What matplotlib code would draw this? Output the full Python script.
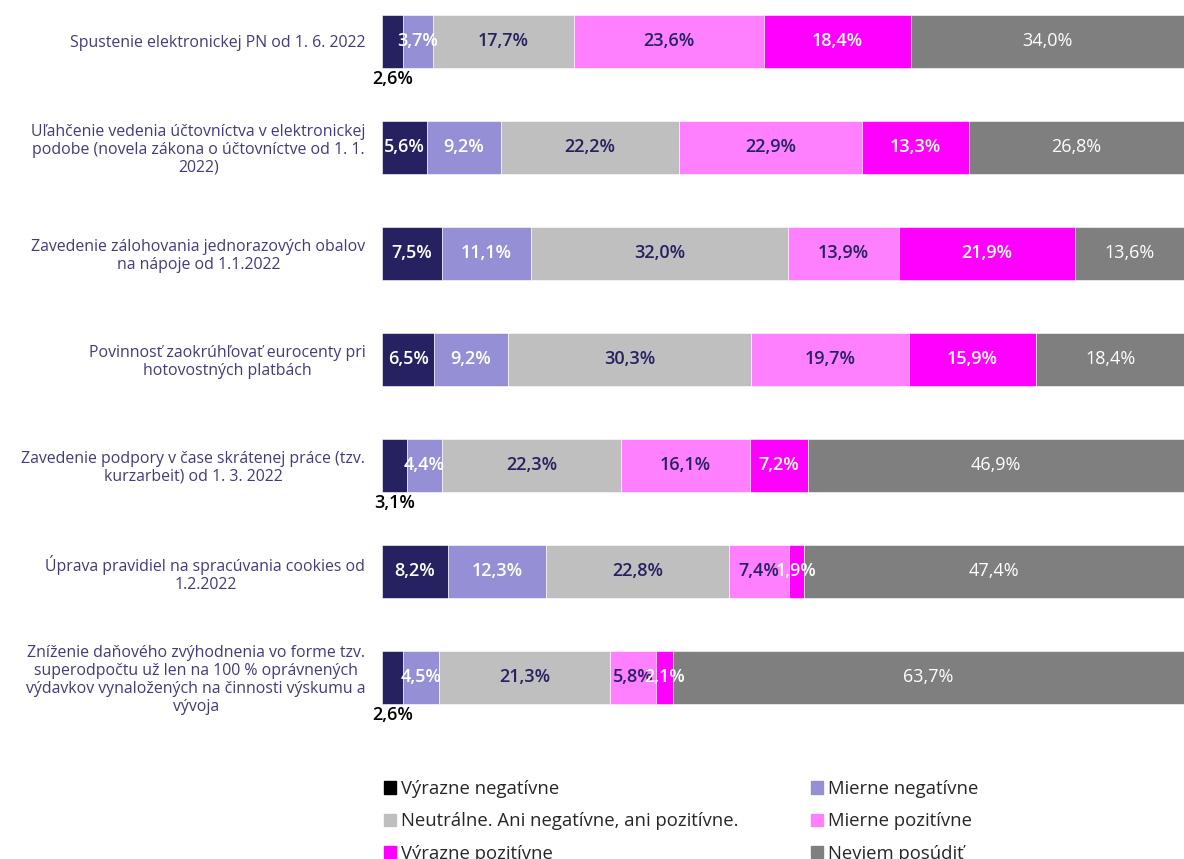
import matplotlib.pyplot as plt
from matplotlib.patches import Patch

plt.rcParams['font.family'] = ['Open Sans', 'DejaVu Sans']

# Data
kategorie = [
    "Spustenie elektronickej PN od 1. 6. 2022",
    "Uľahčenie vedenia účtovníctva v elektronickej\npodobe (novela zákona o účtovníctve od 1. 1.\n2022)",
    "Zavedenie zálohovania jednorazových obalov\nna nápoje od 1.1.2022",
    "Povinnosť zaokrúhľovať eurocenty pri\nhotovostných platbách",
    "Zavedenie podpory v čase skrátenej práce (tzv.\nkurzarbeit) od 1. 3. 2022",
    "Úprava pravidiel na spracúvania cookies od\n1.2.2022",
    "Zníženie daňového zvýhodnenia vo forme tzv.\nsuperodpočtu už len na 100 % oprávnených\nvýdavkov vynaložených na činnosti výskumu a\nvývoja",
]
serie = [
    "Výrazne negatívne",
    "Mierne negatívne",
    "Neutrálne. Ani negatívne, ani pozitívne.",
    "Mierne pozitívne",
    "Výrazne pozitívne",
    "Neviem posúdiť",
]
vyrazne_neg = [2.6, 5.6, 7.5, 6.5, 3.1, 8.2, 2.6]
mierne_neg = [3.7, 9.2, 11.1, 9.2, 4.4, 12.3, 4.5]
neutralne = [17.7, 22.2, 32.0, 30.3, 22.3, 22.8, 21.3]
mierne_poz = [23.6, 22.9, 13.9, 19.7, 16.1, 7.4, 5.8]
vyrazne_poz = [18.4, 13.3, 21.9, 15.9, 7.2, 1.9, 2.1]
neviem = [34.0, 26.8, 13.6, 18.4, 46.9, 47.4, 63.7]

hodnoty = [vyrazne_neg, mierne_neg, neutralne, mierne_poz, vyrazne_poz, neviem]
farby = ['#262262', '#9590d6', '#bfbfbf', '#ff80ff', '#ff00ff', '#7f7f7f']
farby_textu = ['white', 'white', '#262262', '#262262', 'white', 'white']
hrubka = ['semibold', 'semibold', 'semibold', 'semibold', 'semibold', 'normal']

fig = plt.figure(figsize=(11.84, 8.59), dpi=100)
ax = fig.add_axes([382 / 1184, 1 - 740 / 859, 802 / 1184, 740 / 859])

y = list(range(len(kategorie)))
lavo = [0.0] * len(kategorie)
for s, vals in enumerate(hodnoty):
    ax.barh(y, vals, left=lavo, height=0.5, color=farby[s], edgecolor='white', linewidth=0.4)
    for i, v in enumerate(vals):
        stred = lavo[i] + v / 2
        txt = f"{v:.1f}%".replace('.', ',')
        if s == 0 and v < 4:
            # male hodnoty pod stlpcom
            ax.text(stred, i + 0.36, txt, ha='center', va='center', fontsize=13,
                    color='black', fontweight='semibold')
        else:
            ax.text(stred, i, txt, ha='center', va='center', fontsize=13,
                    color=farby_textu[s], fontweight=hrubka[s])
    lavo = [lavo[i] + vals[i] for i in range(len(vals))]

ax.set_xlim(0, 100)
ax.set_ylim(6.594, -0.387)
ax.set_yticks(y)
ax.set_yticklabels(kategorie, fontsize=11.4, color='#403c7a', multialignment='center',
                   linespacing=1.15)
ax.tick_params(axis='y', length=0, pad=12)
ax.set_xticks([])
for sp in ax.spines.values():
    sp.set_visible(False)

# Legenda (poradie po riadkoch ako v Exceli)
legenda_farby = ['black'] + farby[1:]
handles = [Patch(color=legenda_farby[k]) for k in range(6)]
poradie = [0, 2, 4, 1, 3, 5]
fig.legend([handles[k] for k in poradie], [serie[k] for k in poradie],
           loc='upper left', bbox_to_anchor=(384 / 1184, 1 - 780 / 859),
           ncol=2, frameon=False, fontsize=13.3, handlelength=0.65, handleheight=0.65,
           handletextpad=0.25, columnspacing=3.95, labelspacing=0.78, labelcolor='#262626',
           borderaxespad=0, borderpad=0)

plt.savefig('out.png', dpi=100)
